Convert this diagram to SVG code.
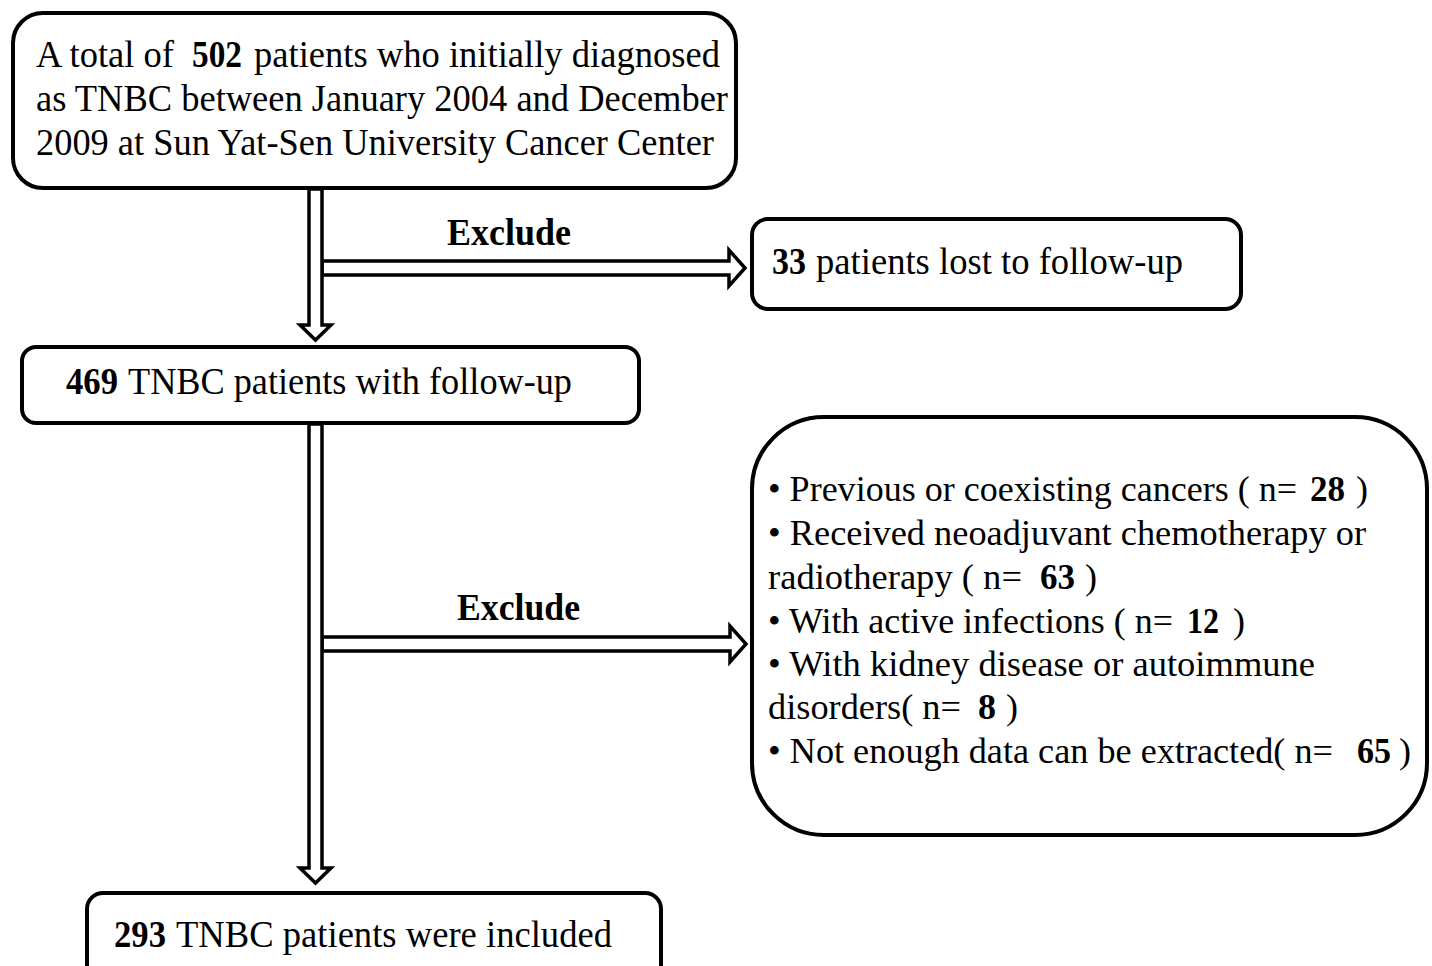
<svg xmlns="http://www.w3.org/2000/svg" width="1432" height="966" viewBox="0 0 1432 966">
<style>
.box{fill:#fff;stroke:#000;stroke-width:4}
.arr{fill:#fff;stroke:#000;stroke-width:3.5;stroke-linejoin:miter}
text{font-family:"Liberation Serif","Times New Roman",serif;font-size:38px;fill:#000}
.s{font-size:36px}
.b{font-weight:bold}
</style>
<rect width="1432" height="966" fill="#fff"/>
<g id="connectors">
<polygon class="arr" points="322,261 729,261 729,250 745,268 729,286 729,275 322,275"/>
<polygon class="arr" points="322,637 730,637 730,626 746,644 730,662 730,651 322,651"/>
<polygon class="arr" points="309,189 322,189 322,325 331,325 315.5,340 300,325 309,325"/>
<polygon class="arr" points="309,424 322,424 322,868 331,868 315.5,883 300,868 309,868"/>
<text class="b" x="447" y="245" textLength="124" lengthAdjust="spacingAndGlyphs" font-size="34">Exclude</text>
<text class="b" x="457" y="620" textLength="123" lengthAdjust="spacingAndGlyphs" font-size="34">Exclude</text>
</g>
<g id="n1">
<rect class="box" x="13" y="13" width="723" height="175" rx="30"/>
<text x="36" y="67" textLength="138" lengthAdjust="spacingAndGlyphs">A total of</text>
<text class="b" x="192" y="67" textLength="50" lengthAdjust="spacingAndGlyphs">502</text>
<text x="254" y="67" textLength="466" lengthAdjust="spacingAndGlyphs">patients who initially diagnosed</text>
<text x="36" y="111" textLength="692" lengthAdjust="spacingAndGlyphs">as TNBC between January 2004 and December</text>
<text x="36" y="155" textLength="678" lengthAdjust="spacingAndGlyphs">2009 at Sun Yat-Sen University Cancer Center</text>
</g>
<g id="n2">
<rect class="box" x="752" y="219" width="489" height="90" rx="16"/>
<text class="b" x="772" y="274" textLength="34" lengthAdjust="spacingAndGlyphs">33</text>
<text x="816" y="274" textLength="367" lengthAdjust="spacingAndGlyphs">patients lost to follow-up</text>
</g>
<g id="n3">
<rect class="box" x="22" y="347" width="617" height="76" rx="14"/>
<text class="b" x="66" y="394" textLength="52" lengthAdjust="spacingAndGlyphs">469</text>
<text x="128" y="394" textLength="444" lengthAdjust="spacingAndGlyphs">TNBC patients with follow-up</text>
</g>
<g id="n4">
<rect class="box" x="752" y="417" width="675" height="418" rx="72"/>
<text class="s" x="768" y="501" textLength="529" lengthAdjust="spacingAndGlyphs">• Previous or coexisting cancers ( n=</text>
<text class="s b" x="1310" y="501" textLength="35" lengthAdjust="spacingAndGlyphs">28</text>
<text class="s" x="1356" y="501">)</text>
<text class="s" x="768" y="545" textLength="598" lengthAdjust="spacingAndGlyphs">• Received neoadjuvant chemotherapy or</text>
<text class="s" x="768" y="589" textLength="254" lengthAdjust="spacingAndGlyphs">radiotherapy ( n=</text>
<text class="s b" x="1040" y="589" textLength="35" lengthAdjust="spacingAndGlyphs">63</text>
<text class="s" x="1085" y="589">)</text>
<text class="s" x="768" y="633" textLength="405" lengthAdjust="spacingAndGlyphs">• With active infections ( n=</text>
<text class="s b" x="1187" y="633" textLength="32" lengthAdjust="spacingAndGlyphs">12</text>
<text class="s" x="1233" y="633">)</text>
<text class="s" x="768" y="676" textLength="547" lengthAdjust="spacingAndGlyphs">• With kidney disease or autoimmune</text>
<text class="s" x="768" y="719" textLength="193" lengthAdjust="spacingAndGlyphs">disorders( n=</text>
<text class="s b" x="978" y="719" textLength="18" lengthAdjust="spacingAndGlyphs">8</text>
<text class="s" x="1006" y="719">)</text>
<text class="s" x="768" y="763" textLength="565" lengthAdjust="spacingAndGlyphs">• Not enough data can be extracted( n=</text>
<text class="s b" x="1357" y="763" textLength="34" lengthAdjust="spacingAndGlyphs">65</text>
<text class="s" x="1399" y="763">)</text>
</g>
<g id="n5">
<rect class="box" x="87" y="893" width="574" height="110" rx="16"/>
<text class="b" x="114" y="947" textLength="52" lengthAdjust="spacingAndGlyphs">293</text>
<text x="176" y="947" textLength="436" lengthAdjust="spacingAndGlyphs">TNBC patients were included</text>
</g>
</svg>
